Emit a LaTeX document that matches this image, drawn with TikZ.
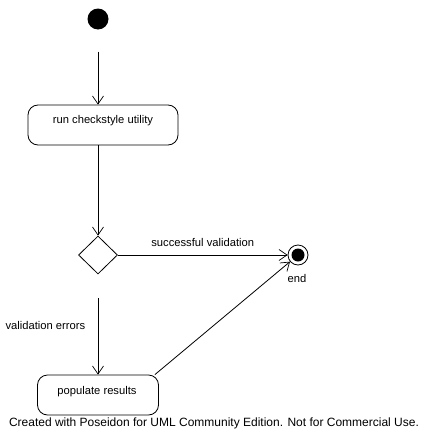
\documentclass[tikz,border=0pt]{standalone}
\usepackage{fontspec}
\setmainfont{Liberation Sans}
\usepackage{tikz}
\usetikzlibrary{arrows.meta,positioning,shapes.geometric,calc}

\begin{document}
\begin{tikzpicture}[
  x=1pt, y=-1pt,
  activity/.style={draw, rounded corners=10pt, line width=0.8pt, minimum height=40pt, inner sep=0pt},
  decision/.style={draw, diamond, line width=0.8pt, minimum width=39pt, minimum height=38pt, inner sep=0pt},
  startstate/.style={circle, fill=black, minimum size=21pt, inner sep=0pt},
  endstate/.style={circle, draw, line width=0.8pt, minimum size=20pt, inner sep=0pt, path picture={\fill (path picture bounding box.center) circle (6.5pt);}},
  arrow/.style={-{Straight Barb[length=8pt, width=11pt, line width=0.7pt]}, line width=0.8pt},
  lbl/.style={font=\fontsize{11.2}{13}\selectfont}
]
\useasboundingbox (0,0) rectangle (429,447);

% States
\node[startstate] (start) at (98,19) {};
\node[activity, minimum width=150pt] (run) at (103,125) {};
\node[lbl] at (103,121) {run checkstyle utility};
\node[decision] (check) at (98,255) {};
\node[endstate] (end) at (298,255) {};
\node[lbl] (endlabel) at (297,278) {end};
\node[activity, minimum width=121pt] (pop) at (98,395) {};
\node[lbl] at (97,392) {populate results};

% Transitions
\draw[arrow] ([yshift=-22pt]start.south) -- (start |- run.north);
\draw[arrow] (check |- run.south) -- (check);
\draw[arrow] (check) -- node[lbl, above=5pt] {successful validation} (end);
\draw[arrow] ([yshift=-24pt]check.south) -- node[lbl, left=9pt, pos=0.35] {validation errors} (pop);
\draw[arrow] ([xshift=-4pt]pop.north east) -- (end);

% Footer
\node[lbl, font=\fontsize{12}{14}\selectfont] (footer) at (214,423) {Created with Poseidon for UML Community Edition. Not for Commercial Use.};

\end{tikzpicture}
\end{document}
